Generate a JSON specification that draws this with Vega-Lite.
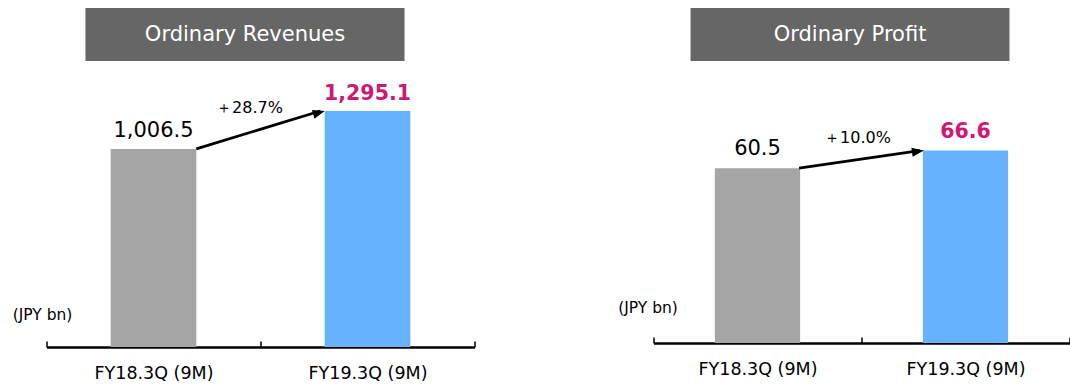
{
  "$schema": "https://vega.github.io/schema/vega-lite/v6.json",
  "background": "white",
  "padding": {"left": 11.5, "top": 8, "right": 0, "bottom": 0},
  "spacing": 142,
  "datasets": {
    "revenues": [
      {"period": "FY18.3Q (9M)", "value": 1006.5, "current": false},
      {"period": "FY19.3Q (9M)", "value": 1295.1, "current": true, "change": "＋28.7%"}
    ],
    "revenues_change": [
      {"from": "FY18.3Q (9M)", "to": "FY19.3Q (9M)", "from_value": 1006.5, "to_value": 1295.1}
    ],
    "profit": [
      {"period": "FY18.3Q (9M)", "value": 60.5, "current": false},
      {"period": "FY19.3Q (9M)", "value": 66.6, "current": true, "change": "＋10.0%"}
    ],
    "profit_change": [
      {"from": "FY18.3Q (9M)", "to": "FY19.3Q (9M)", "from_value": 60.5, "to_value": 66.6}
    ]
  },
  "config": {
    "view": {"stroke": null},
    "font": "DejaVu Sans",
    "text": {"font": "DejaVu Sans"},
    "axisX": {
      "labelAngle": 0,
      "labelFontSize": 17.5,
      "labelFont": "DejaVu Sans",
      "labelColor": "#000000",
      "domainColor": "#000000",
      "domainWidth": 2.5,
      "tickColor": "#000000",
      "tickWidth": 1.5,
      "tickSize": -6,
      "tickBand": "extent",
      "labelPadding": 23,
      "grid": false
    },
    "axisY": {
      "labels": false,
      "ticks": false,
      "domain": false,
      "grid": false,
      "titleAngle": 0,
      "titleAlign": "center",
      "titleBaseline": "middle",
      "titleFont": "DejaVu Sans",
      "titleFontSize": 15.5,
      "titleFontWeight": "normal",
      "titleColor": "#000000"
    }
  },
  "hconcat": [
    {
      "spacing": 22,
      "vconcat": [
        {
          "width": 428,
          "height": 53,
          "data": {"values": [{"title": "Ordinary Revenues"}]},
          "layer": [
            {
              "mark": {"type": "rect", "color": "#666666"},
              "encoding": {
                "x": {"datum": "FY18.3Q (9M)", "type": "nominal", "bandPosition": 0.182,
                      "scale": {"domain": ["FY18.3Q (9M)", "FY19.3Q (9M)"], "paddingInner": 0, "paddingOuter": 0}, "axis": null},
                "x2": {"datum": "FY19.3Q (9M)", "bandPosition": 0.673}
              }
            },
            {
              "mark": {"type": "text", "color": "#ffffff", "fontSize": 21, "align": "center", "baseline": "middle"},
              "encoding": {
                "x": {"datum": "FY18.3Q (9M)", "type": "nominal", "bandPosition": 0.9276},
                "text": {"field": "title"}
              }
            }
          ]
        },
        {
          "width": 428,
          "height": 263,
          "data": {"name": "revenues"},
          "layer": [
            {
              "mark": {"type": "bar", "width": {"band": 0.4}},
              "encoding": {
                "x": {"field": "period", "type": "nominal", "scale": {"paddingInner": 0, "paddingOuter": 0}, "axis": {"title": null}},
                "y": {"field": "value", "type": "quantitative", "stack": null, "scale": {"domain": [-500, 1500], "nice": false, "zero": false},
                      "axis": {"title": "(JPY bn)", "titleX": -4.5, "titleY": 230.5}},
                "y2": {"value": "height"},
                "color": {"field": "period", "type": "nominal", "scale": {"domain": ["FY18.3Q (9M)", "FY19.3Q (9M)"], "range": ["#A5A5A5", "#66B2FF"]}, "legend": null}
              }
            },
            {
              "transform": [{"filter": {"field": "current", "equal": false}}],
              "mark": {"type": "text", "fontSize": 21, "color": "#000000", "baseline": "alphabetic", "dy": -12},
              "encoding": {
                "x": {"field": "period", "type": "nominal"},
                "y": {"field": "value", "type": "quantitative"},
                "text": {"field": "value", "format": ",.1f"}
              }
            },
            {
              "transform": [{"filter": {"field": "current", "equal": true}}],
              "mark": {"type": "text", "fontSize": 20.5, "fontWeight": "bold", "color": "#CF1874", "baseline": "alphabetic", "dy": -11},
              "encoding": {
                "x": {"field": "period", "type": "nominal"},
                "y": {"field": "value", "type": "quantitative"},
                "text": {"field": "value", "format": ",.1f"}
              }
            },
            {
              "data": {"name": "revenues_change"},
              "mark": {"type": "rule", "strokeWidth": 2.75, "color": "#000000"},
              "encoding": {
                "x": {"field": "from", "type": "nominal", "bandPosition": 0.7},
                "x2": {"field": "to", "bandPosition": 0.28},
                "y": {"field": "from_value", "type": "quantitative"},
                "y2": {"field": "to_value"}
              }
            },
            {
              "data": {"name": "revenues_change"},
              "mark": {"type": "point", "shape": "M0,0L-2,-0.75L-2,0.75Z", "size": 144, "filled": true, "color": "#000000", "opacity": 1, "strokeWidth": 0, "angle": -16.5},
              "encoding": {
                "x": {"field": "to", "type": "nominal", "bandPosition": 0.3},
                "y": {"field": "to_value", "type": "quantitative"}
              }
            },
            {
              "transform": [
                {"joinaggregate": [{"op": "mean", "field": "value", "as": "midpoint"}]},
                {"filter": {"field": "current", "equal": true}}
              ],
              "mark": {"type": "text", "fontSize": 16, "color": "#000000", "baseline": "alphabetic", "dx": -11, "dy": -17},
              "encoding": {
                "x": {"field": "period", "type": "nominal", "bandPosition": 0},
                "y": {"field": "midpoint", "type": "quantitative"},
                "text": {"field": "change"}
              }
            }
          ]
        }
      ]
    },
    {
      "spacing": 22,
      "vconcat": [
        {
          "width": 416,
          "height": 53,
          "data": {"values": [{"title": "Ordinary Profit"}]},
          "layer": [
            {
              "mark": {"type": "rect", "color": "#666666"},
              "encoding": {
                "x": {"datum": "FY18.3Q (9M)", "type": "nominal", "bandPosition": 0.178,
                      "scale": {"domain": ["FY18.3Q (9M)", "FY19.3Q (9M)"], "paddingInner": 0, "paddingOuter": 0}, "axis": null},
                "x2": {"datum": "FY19.3Q (9M)", "bandPosition": 0.7115}
              }
            },
            {
              "mark": {"type": "text", "color": "#ffffff", "fontSize": 21, "align": "center", "baseline": "middle"},
              "encoding": {
                "x": {"datum": "FY18.3Q (9M)", "type": "nominal", "bandPosition": 0.945},
                "text": {"field": "title"}
              }
            }
          ]
        },
        {
          "width": 416,
          "height": 260,
          "data": {"name": "profit"},
          "layer": [
            {
              "mark": {"type": "bar", "width": {"band": 0.41}},
              "encoding": {
                "x": {"field": "period", "type": "nominal", "scale": {"paddingInner": 0, "paddingOuter": 0}, "axis": {"title": null}},
                "y": {"field": "value", "type": "quantitative", "stack": null, "scale": {"domain": [0, 90], "nice": false, "zero": false},
                      "axis": {"title": "(JPY bn)", "titleX": -6, "titleY": 224.5}},
                "y2": {"value": "height"},
                "color": {"field": "period", "type": "nominal", "scale": {"domain": ["FY18.3Q (9M)", "FY19.3Q (9M)"], "range": ["#A5A5A5", "#66B2FF"]}, "legend": null}
              }
            },
            {
              "transform": [{"filter": {"field": "current", "equal": false}}],
              "mark": {"type": "text", "fontSize": 21, "color": "#000000", "baseline": "alphabetic", "dy": -13},
              "encoding": {
                "x": {"field": "period", "type": "nominal"},
                "y": {"field": "value", "type": "quantitative"},
                "text": {"field": "value", "format": ",.1f"}
              }
            },
            {
              "transform": [{"filter": {"field": "current", "equal": true}}],
              "mark": {"type": "text", "fontSize": 20.5, "fontWeight": "bold", "color": "#CF1874", "baseline": "alphabetic", "dy": -13},
              "encoding": {
                "x": {"field": "period", "type": "nominal"},
                "y": {"field": "value", "type": "quantitative"},
                "text": {"field": "value", "format": ",.1f"}
              }
            },
            {
              "data": {"name": "profit_change"},
              "mark": {"type": "rule", "strokeWidth": 2.75, "color": "#000000"},
              "encoding": {
                "x": {"field": "from", "type": "nominal", "bandPosition": 0.7},
                "x2": {"field": "to", "bandPosition": 0.28},
                "y": {"field": "from_value", "type": "quantitative"},
                "y2": {"field": "to_value"}
              }
            },
            {
              "data": {"name": "profit_change"},
              "mark": {"type": "point", "shape": "M0,0L-2,-0.75L-2,0.75Z", "size": 144, "filled": true, "color": "#000000", "opacity": 1, "strokeWidth": 0, "angle": -8},
              "encoding": {
                "x": {"field": "to", "type": "nominal", "bandPosition": 0.3},
                "y": {"field": "to_value", "type": "quantitative"}
              }
            },
            {
              "transform": [
                {"joinaggregate": [{"op": "mean", "field": "value", "as": "midpoint"}]},
                {"filter": {"field": "current", "equal": true}}
              ],
              "mark": {"type": "text", "fontSize": 16, "color": "#000000", "baseline": "alphabetic", "dx": -4, "dy": -16.5},
              "encoding": {
                "x": {"field": "period", "type": "nominal", "bandPosition": 0},
                "y": {"field": "midpoint", "type": "quantitative"},
                "text": {"field": "change"}
              }
            }
          ]
        }
      ]
    }
  ]
}
